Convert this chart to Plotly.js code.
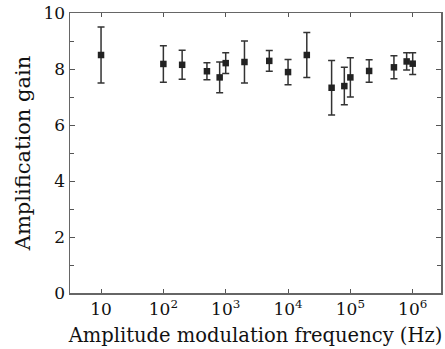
<!DOCTYPE html>
<html><head><meta charset="utf-8">
<script src="https://cdn.plot.ly/plotly-3.0.1.min.js"></script>
<style>html,body{margin:0;padding:0;background:#fff}</style>
</head><body>
<div id="plot" style="width:445px;height:349px"></div>
<script>
const freq = [10, 100, 200, 500, 800, 1000, 2000, 5000, 10000, 20000, 50000, 80000, 100000, 200000, 500000, 800000, 1000000];
const gain = [8.5, 8.18, 8.15, 7.92, 7.70, 8.21, 8.25, 8.29, 7.89, 8.5, 7.33, 7.39, 7.70, 7.93, 8.06, 8.27, 8.19];
const err  = [1.0, 0.65, 0.52, 0.30, 0.55, 0.37, 0.75, 0.37, 0.45, 0.80, 0.97, 0.67, 0.70, 0.40, 0.41, 0.31, 0.39];
const xTickVals = [10, 100, 1000, 10000, 100000, 1000000];
const xTickText = ["10", "10<sup>2</sup>", "10<sup>3</sup>", "10<sup>4</sup>", "10<sup>5</sup>", "10<sup>6</sup>"];
const yTickVals = [0, 2, 4, 6, 8, 10];

const fontFam = "DejaVu Serif";
Plotly.newPlot('plot', [{
  x: freq, y: gain, type: 'scatter', mode: 'markers',
  marker: {symbol: 'square', size: 6.5, color: '#222'},
  error_y: {type: 'data', array: err, visible: true, color: '#333', thickness: 1.5, width: 3.5}
}], {
  width: 445, height: 349,
  margin: {l: 70, r: 4, t: 13, b: 56},
  paper_bgcolor: '#fff', plot_bgcolor: '#fff',
  showlegend: false,
  font: {family: fontFam, color: '#111', size: 17},
  xaxis: {
    type: 'log', range: [0.502, 6.454],
    tickvals: xTickVals, ticktext: xTickText,
    ticks: 'inside', ticklen: 4, tickcolor: '#555', tickwidth: 1,
    showline: true, linecolor: '#666', linewidth: 1.5, mirror: 'ticks',
    showgrid: false, zeroline: false,
    tickfont: {family: fontFam, size: 17, color: '#111'},
    title: {text: 'Amplitude modulation frequency (Hz)', font: {family: fontFam, size: 19.5, color: '#111'}, standoff: 10}
  },
  yaxis: {
    range: [0, 10],
    tickvals: yTickVals,
    ticks: 'inside', ticklen: 5, tickcolor: '#555', tickwidth: 1,
    minor: {dtick: 1, ticks: 'inside', ticklen: 4, tickcolor: '#555'},
    showline: true, linecolor: '#666', linewidth: 1.5, mirror: 'ticks',
    showgrid: false, zeroline: false,
    ticklabelstandoff: 0,
    tickfont: {family: fontFam, size: 17, color: '#111'},
    title: {text: 'Amplification gain', font: {family: fontFam, size: 21, color: '#111'}, standoff: 7}
  }
}, {displayModeBar: false, staticPlot: true});
</script>
</body></html>
